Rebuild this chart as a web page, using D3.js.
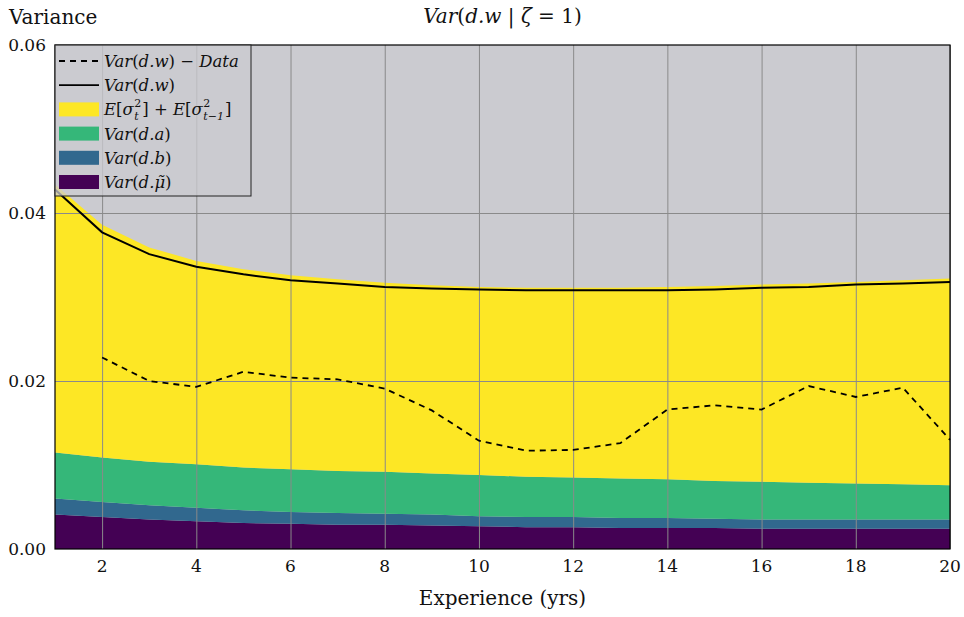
<!DOCTYPE html>
<html>
<head>
<meta charset="utf-8">
<script src="https://cdn.jsdelivr.net/npm/d3@7"></script>
<style>
  body { margin: 0; background: #fff; }
  svg text { font-family: "DejaVu Serif", serif; fill: #111; }
</style>
</head>
<body>
<div id="chart"></div>
<script>
'use strict';
// Data
const experience = d3.range(1, 21)
const varMu = [0.0041, 0.0038, 0.0035, 0.0033, 0.0031, 0.0030, 0.0029, 0.0029, 0.0028, 0.0027,
    0.0026, 0.0026, 0.0025, 0.0025, 0.0025, 0.0024, 0.0024, 0.0024, 0.0024, 0.0024]
const varB = [0.0019, 0.0018, 0.0017, 0.0016, 0.0015, 0.0014, 0.0014, 0.0013, 0.0013, 0.0012,
    0.0012, 0.0012, 0.0012, 0.0012, 0.0011, 0.0011, 0.0011, 0.0011, 0.0011, 0.0011]
const varA = [0.0055, 0.0053, 0.0052, 0.0052, 0.0051, 0.0051, 0.0050, 0.0050, 0.0049, 0.0049,
    0.0048, 0.0047, 0.0047, 0.0046, 0.0045, 0.0045, 0.0044, 0.0043, 0.0042, 0.0041]
const sigmaSum = [0.0319, 0.0277, 0.0255, 0.0242, 0.0236, 0.0231, 0.0228, 0.0225, 0.0224, 0.0224,
    0.0225, 0.0226, 0.0227, 0.0229, 0.0232, 0.0235, 0.0237, 0.0240, 0.0243, 0.0246]
const varW = [0.0428, 0.0377, 0.0351, 0.0336, 0.0327, 0.0320, 0.0316, 0.0312, 0.0310, 0.0309,
    0.0308, 0.0308, 0.0308, 0.0308, 0.0309, 0.0311, 0.0312, 0.0315, 0.0316, 0.0318]
const dataExperience = d3.range(2, 21)
const varWData = [0.0228, 0.0200, 0.0193, 0.0211, 0.0204, 0.0202, 0.0191, 0.0165, 0.0129, 0.0117,
    0.0118, 0.0126, 0.0166, 0.0171, 0.0166, 0.0194, 0.0181, 0.0192, 0.0130]
const xTicks = [2, 4, 6, 8, 10, 12, 14, 16, 18, 20]
const yTicks = [0, 0.02, 0.04, 0.06]
const layerKeys = ['mu', 'b', 'a', 'sigma']
const layerColors = { mu: '#440154', b: '#31688e', a: '#35b779', sigma: '#fde725' }

const margin = { top: 45, right: 14, bottom: 68, left: 55 }
const fullWidth = 964
const fullHeight = 617
const width = fullWidth - margin.left - margin.right
const height = fullHeight - margin.top - margin.bottom

const x = d3.scaleLinear().domain([1, 20]).range([0, width])
const y = d3.scaleLinear().domain([0, 0.06]).range([height, 0])

const root = d3.select('#chart').append('svg')
    .attr('width', fullWidth)
    .attr('height', fullHeight)
const svg = root.append('g')
    .attr('transform', `translate(${margin.left},${margin.top})`)

// Helper: write math-ish text from [text, style, dx, dy, size] parts
function mathText(sel, parts, size) {
    parts.forEach(p => {
        const t = sel.append('tspan').text(p[0])
        if (p[1] === 'i') t.attr('font-style', 'italic')
        if (p[2]) t.attr('dx', p[2])
        if (p[3]) t.attr('dy', p[3])
        t.attr('font-size', p[4] || size)
    })
}

// Plot background
svg.append('rect')
    .attr('width', width)
    .attr('height', height)
    .attr('fill', '#cbcbd0')

// Stacked areas
const table = experience.map((e, i) => ({ e, mu: varMu[i], b: varB[i], a: varA[i], sigma: sigmaSum[i] }))
const stacked = d3.stack().keys(layerKeys)(table)
const area = d3.area()
    .x(d => x(d.data.e))
    .y0(d => y(d[0]))
    .y1(d => y(d[1]))
svg.selectAll('path.layer').data(stacked).join('path')
    .attr('class', 'layer')
    .attr('d', area)
    .attr('fill', d => layerColors[d.key])

// Grid lines
svg.append('g')
    .call(d3.axisBottom(x).tickValues(xTicks).tickSize(-height).tickFormat(''))
    .attr('transform', `translate(0,${height})`)
    .call(g => g.select('.domain').remove())
    .call(g => g.selectAll('line').attr('stroke', '#8a8a8a').attr('stroke-width', 1))
svg.append('g')
    .call(d3.axisLeft(y).tickValues([0.02, 0.04]).tickSize(-width).tickFormat(''))
    .call(g => g.select('.domain').remove())
    .call(g => g.selectAll('line').attr('stroke', '#8a8a8a').attr('stroke-width', 1))

// Model Var(d.w) line
const wLine = d3.line().x((d, i) => x(experience[i])).y(d => y(d))
svg.append('path').datum(varW)
    .attr('d', wLine)
    .attr('fill', 'none')
    .attr('stroke', '#000')
    .attr('stroke-width', 2)

// Data Var(d.w) dashed line
const dataLine = d3.line().x((d, i) => x(dataExperience[i])).y(d => y(d))
svg.append('path').datum(varWData)
    .attr('d', dataLine)
    .attr('fill', 'none')
    .attr('stroke', '#000')
    .attr('stroke-width', 1.8)
    .attr('stroke-dasharray', '6,5')

// Frame
svg.append('rect')
    .attr('width', width)
    .attr('height', height)
    .attr('fill', 'none')
    .attr('stroke', '#000')
    .attr('stroke-width', 1.2)

// Tick labels
svg.append('g').selectAll('text').data(xTicks).join('text')
    .attr('x', d => x(d))
    .attr('y', height + 23)
    .attr('text-anchor', 'middle')
    .attr('font-size', 17)
    .text(d => d)
svg.append('g').selectAll('text').data(yTicks).join('text')
    .attr('x', -9)
    .attr('y', d => y(d) + 6)
    .attr('text-anchor', 'end')
    .attr('font-size', 17)
    .text(d => d3.format('.2f')(d))

// Axis labels and title
root.append('text')
    .attr('x', 9)
    .attr('y', 24)
    .attr('font-size', 20)
    .text('Variance')
root.append('text')
    .attr('x', margin.left + width / 2)
    .attr('y', 605)
    .attr('text-anchor', 'middle')
    .attr('font-size', 20)
    .text('Experience (yrs)')
const title = root.append('text')
    .attr('x', margin.left + width / 2)
    .attr('y', 23)
    .attr('text-anchor', 'middle')
mathText(title, [['Var', 'i'], ['(', 'n'], ['d.w', 'i'], [' | ', 'n'], ['ζ', 'i'], [' = 1)', 'n']], 20)

// Legend
const legend = svg.append('g')
legend.append('rect')
    .attr('x', 0)
    .attr('y', 0)
    .attr('width', 196)
    .attr('height', 151)
    .attr('fill', '#cbcbd0')
    .attr('fill-opacity', 0.75)
    .attr('stroke', '#222')
    .attr('stroke-width', 1)

const legendRows = [
    { type: 'dash', parts: [['Var', 'i'], ['(', 'n'], ['d.w', 'i'], [') − ', 'n'], ['Data', 'i']] },
    { type: 'line', parts: [['Var', 'i'], ['(', 'n'], ['d.w', 'i'], [')', 'n']] },
    { type: 'sigma', color: layerColors.sigma },
    { type: 'box', color: layerColors.a, parts: [['Var', 'i'], ['(', 'n'], ['d.a', 'i'], [')', 'n']] },
    { type: 'box', color: layerColors.b, parts: [['Var', 'i'], ['(', 'n'], ['d.b', 'i'], [')', 'n']] },
    { type: 'box', color: layerColors.mu, parts: [['Var', 'i'], ['(', 'n'], ['d.μ̃', 'i'], [')', 'n']] }
]
legendRows.forEach((row, i) => {
    const cy = 16 + i * 24.2
    const g = legend.append('g').attr('transform', `translate(0,${cy})`)
    if (row.type === 'dash' || row.type === 'line') {
        g.append('line')
            .attr('x1', 4).attr('x2', 44).attr('y1', 0).attr('y2', 0)
            .attr('stroke', '#000')
            .attr('stroke-width', 1.8)
            .attr('stroke-dasharray', row.type === 'dash' ? '6,5' : null)
    } else {
        g.append('rect')
            .attr('x', 4).attr('y', -7).attr('width', 40).attr('height', 14)
            .attr('fill', row.color)
    }
    const t = g.append('text').attr('x', 49).attr('y', 6)
    if (row.type === 'sigma') {
        mathText(t, [
            ['E', 'i'], ['[', 'n'], ['σ', 'i'],
            ['2', 'n', 0.5, -8, 11], ['t', 'i', -7, 13, 11], [']', 'n', 3.6, -5],
            [' + ', 'n'], ['E', 'i'], ['[', 'n'], ['σ', 'i'],
            ['2', 'n', 0.5, -8, 11], ['t−1', 'i', -7, 13, 11], [']', 'n', 1, -5]
        ], 16.5)
    } else {
        mathText(t, row.parts, 16.5)
    }
})
</script>
</body>
</html>
